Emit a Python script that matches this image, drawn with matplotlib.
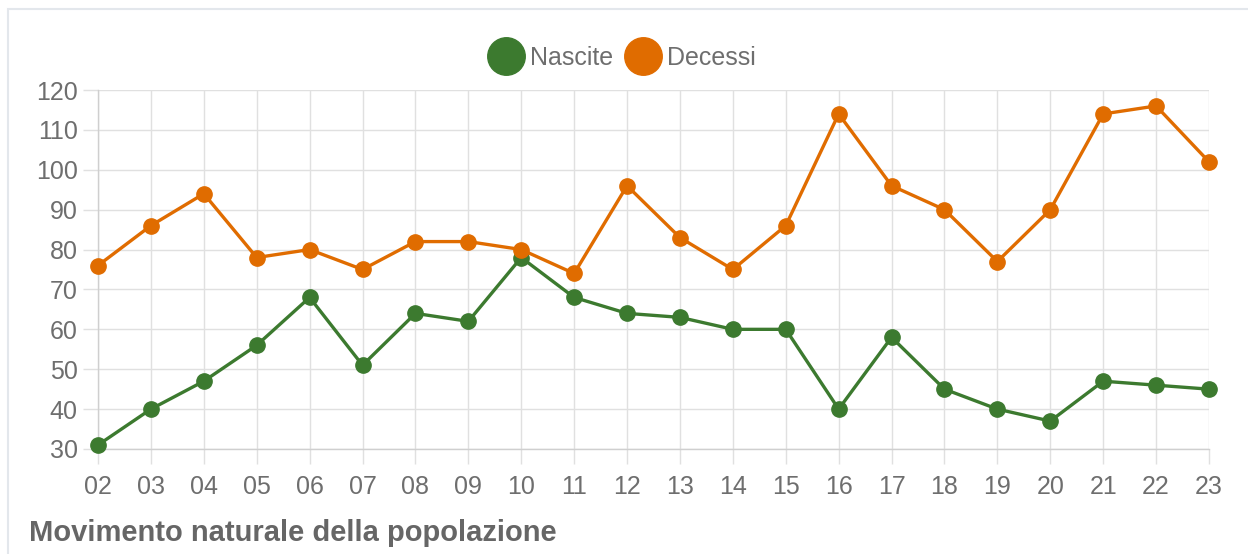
import matplotlib
matplotlib.use("Agg")
import matplotlib.pyplot as plt
from matplotlib.lines import Line2D
from matplotlib.patches import Rectangle

plt.rcParams['font.family'] = ['Liberation Sans', 'DejaVu Sans']

years = ["02", "03", "04", "05", "06", "07", "08", "09", "10", "11", "12",
         "13", "14", "15", "16", "17", "18", "19", "20", "21", "22", "23"]
nascite = [31, 40, 47, 56, 68, 51, 64, 62, 78, 68, 64, 63, 60, 60, 40, 58, 45, 40, 37, 47, 46, 45]
decessi = [76, 86, 94, 78, 80, 75, 82, 82, 80, 74, 96, 83, 75, 86, 114, 96, 90, 77, 90, 114, 116, 102]
yticks = [30, 40, 50, 60, 70, 80, 90, 100, 110, 120]

green = "#3c7a2f"
orange = "#e06c00"
grid_c = "#e0e0e0"
text_c = "#6e6e6e"

W, H = 1248, 554
fig = plt.figure(figsize=(W / 100, H / 100), dpi=100)
fig.patches.append(Rectangle((8 / W, -0.1), 1.2, 1 - 9 / H + 0.1, transform=fig.transFigure,
                             fill=False, edgecolor="#e3e7ec", linewidth=1.5))

ax = fig.add_axes([98 / W, 1 - 449 / H, (1209 - 98) / W, (449 - 90) / H])
x = list(range(len(years)))
ax.plot(x, nascite, color=green, linewidth=2.4, marker="o", markersize=11, zorder=3,
        clip_on=False)
ax.plot(x, decessi, color=orange, linewidth=2.4, marker="o", markersize=11, zorder=3,
        clip_on=False)

ax.set_xlim(0, len(years) - 1)
ax.set_ylim(30, 120)
ax.set_xticks(x)
ax.set_xticklabels(years)
ax.set_yticks(yticks)
ax.grid(True, color=grid_c, linewidth=1)
ax.set_axisbelow(True)
for s in ["top", "right"]:
    ax.spines[s].set_visible(False)
for s in ["left", "bottom"]:
    ax.spines[s].set_color("#cfcfcf")
    ax.spines[s].set_linewidth(1)
ax.tick_params(axis="both", length=10.5, width=1, color=grid_c, labelcolor=text_c,
               labelsize=18, pad=4)
ax.tick_params(axis="x", pad=8)

handles = [Line2D([], [], color=green, marker="o", linestyle="none", markersize=27),
           Line2D([], [], color=orange, marker="o", linestyle="none", markersize=27)]
fig.legend(handles, ["Nascite", "Decessi"], loc="center", bbox_to_anchor=(622 / W, 1 - 58 / H),
           ncol=2, frameon=False, fontsize=18, labelcolor=text_c, handletextpad=0.25,
           columnspacing=0.5, handlelength=1.4)

fig.text(29 / W, 1 - 533 / H, "Movimento naturale della popolazione", fontsize=21,
         fontweight="bold", color="#666666", va="center", ha="left")

fig.savefig("out.png", dpi=100, facecolor="white")
